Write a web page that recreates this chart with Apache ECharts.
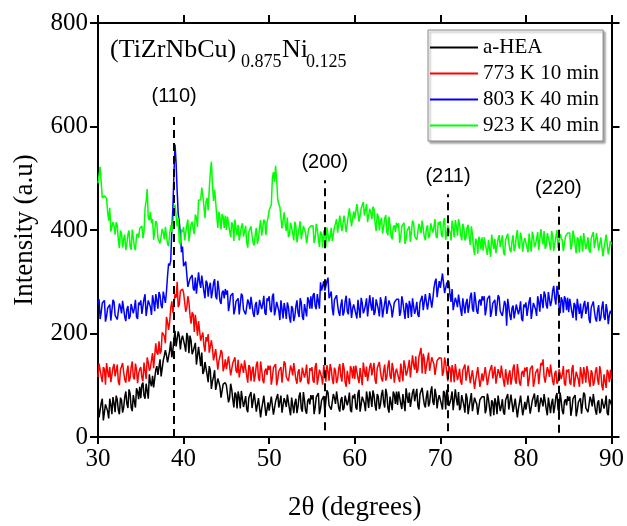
<!DOCTYPE html>
<html>
<head>
<meta charset="utf-8">
<script src="https://cdn.jsdelivr.net/npm/echarts@6.0.0/dist/echarts.min.js"></script>
<style>
  html, body { margin: 0; padding: 0; background: #fff; }
  #chart { width: 627px; height: 526px; }
</style>
</head>
<body>
<div id="chart"></div>
<script>
// readings taken every 0.25 deg from 30 deg ("A" lists, 241 values)
// and at the points half-way between them, 30.125 deg on ("B" lists, 240 values)
const thetaStart = 30, thetaStep = 0.25;

const seriesNames = ['a-HEA', '773 K 10 min', '803 K 40 min', '923 K 40 min'];
const seriesColors = ['#000000', '#ff0000', '#0000ff', '#00ff00'];

// values, 20 per row = 5 degrees per row
const aHEA_A = [
  64,35,74,48,64,36,62,77,48,72,44,71,57,88,56,84,50,81,94,73,
  75,105,74,104,121,98,96,130,120,150,118,157,158,146,185,168,205,173,195,188,
  197,165,194,196,160,169,140,174,137,122,145,120,137,93,116,91,113,97,76,100,
  100,67,103,73,86,55,77,89,58,79,48,73,56,84,49,75,38,67,77,53,
  51,78,43,69,83,55,47,75,58,82,42,73,66,46,79,55,87,51,70,63,
  73,44,77,85,55,71,49,90,61,53,83,64,87,49,77,56,82,70,52,80,
  83,53,91,63,79,50,74,88,58,81,51,78,62,91,57,83,47,76,88,64,
  62,89,54,80,94,66,58,86,69,93,53,84,77,57,90,66,98,62,81,73,
  83,53,85,91,60,75,52,92,61,52,81,61,84,44,72,50,76,64,46,73,
  76,46,84,56,71,42,66,80,50,73,43,69,53,82,48,74,38,67,78,54,
  53,80,45,71,84,56,48,76,59,82,42,73,66,46,78,54,86,50,69,61,
  70,41,74,81,51,67,45,86,56,48,78,59,82,43,71,50,76,64,46,73,
  62
];
const aHEA_B = [
  38,66,32,63,50,74,44,65,80,52,76,47,77,64,92,57,81,57,88,97,
  101,80,103,74,105,118,93,137,121,117,148,168,144,167,154,189,175,204,169,196,
  177,201,162,186,166,182,143,156,163,127,142,106,128,108,129,88,106,76,102,105,
  102,75,92,57,82,88,55,91,67,54,76,87,54,68,47,75,55,80,41,67,
  49,76,41,70,57,80,48,68,82,54,76,46,74,59,86,49,71,45,74,81,
  81,57,76,44,71,79,48,86,64,53,76,88,56,72,52,80,61,86,48,75,
  57,84,49,78,65,88,56,76,90,61,83,54,82,67,93,56,78,52,82,88,
  88,64,83,50,78,86,55,93,70,60,83,95,63,78,59,87,68,93,55,81,
  63,89,53,81,66,88,55,74,87,57,78,47,75,59,85,47,69,43,72,78,
  78,54,73,40,67,75,44,82,59,48,71,83,51,66,46,74,55,80,42,68,
  51,78,43,72,58,81,49,69,83,54,76,46,74,59,85,48,70,44,73,79,
  78,54,73,40,67,75,44,82,59,48,71,83,51,66,46,74,55,80,42,68
];
const k773_A = [
  116,142,106,131,143,115,106,134,117,140,100,132,125,105,138,114,146,111,130,123,
  135,108,144,154,128,149,133,181,159,161,202,195,232,207,249,240,276,300,256,281,
  279,242,272,235,241,203,218,224,186,202,165,185,163,187,148,170,130,155,163,136,
  131,156,119,143,154,124,115,142,124,146,105,135,128,107,139,114,146,110,128,120,
  130,101,134,141,111,127,105,146,116,108,138,119,142,103,131,110,136,124,106,133,
  135,105,143,115,130,101,125,139,109,132,102,128,112,141,107,133,97,126,137,113,
  112,139,104,130,144,116,108,136,119,143,103,134,127,107,140,116,148,112,131,124,
  134,106,140,148,119,136,115,158,130,124,155,172,161,122,150,128,154,141,122,148,
  150,118,154,124,137,106,128,141,110,132,101,126,109,138,104,129,93,122,133,109,
  108,135,100,126,139,111,103,131,114,137,97,128,121,101,133,109,141,105,124,116,
  127,98,131,138,108,124,102,143,150,105,135,116,139,100,128,107,133,121,103,130,
  131,101,139,111,125,97,121,135,105,127,97,123,107,135,101,126,90,119,130,106,
  112
];
const k773_B = [
  142,117,135,101,127,135,103,141,118,107,130,143,111,126,107,135,116,142,104,131,
  115,144,112,144,134,162,136,163,185,166,199,181,223,222,262,237,269,251,282,286,
  281,250,261,219,237,236,196,226,195,177,193,199,161,171,146,170,147,168,127,150,
  129,154,117,144,128,149,116,135,148,118,139,108,136,120,146,108,130,104,132,138,
  138,114,133,100,127,135,104,142,119,108,131,143,111,126,106,134,115,140,102,128,
  109,136,101,130,116,139,107,127,141,112,134,104,132,117,143,106,128,102,131,137,
  138,114,133,100,128,136,105,143,120,110,133,145,113,128,109,137,118,143,105,132,
  114,142,108,138,125,149,118,140,156,129,152,123,152,137,163,125,147,120,148,153,
  152,126,143,108,133,139,106,143,119,107,129,140,107,122,102,129,110,135,97,123,
  106,133,98,127,113,136,104,124,138,109,131,101,129,114,140,103,125,99,128,134,
  135,111,130,97,124,132,101,139,116,105,128,140,108,123,103,131,112,137,99,125,
  105,132,97,126,111,135,103,123,137,107,129,99,127,111,137,99,121,95,124,130
];
const k803_A = [
  258,228,259,264,233,248,225,265,235,227,258,239,263,224,253,233,260,249,232,260,
  264,236,276,249,265,236,261,276,248,274,249,283,281,335,341,442,565,475,416,357,
  330,339,290,306,313,283,277,318,288,309,268,298,290,268,298,272,302,263,279,268,
  275,243,273,278,246,260,237,277,246,237,266,247,270,232,261,241,268,257,240,268,
  272,241,277,246,258,226,247,259,228,251,221,248,233,264,232,260,226,257,270,248,
  248,278,247,278,299,281,283,301,268,281,235,263,255,234,266,241,273,237,256,248,
  258,229,262,269,239,255,233,274,244,236,266,247,270,231,259,238,264,252,234,261,
  264,234,272,244,259,230,254,268,238,261,232,259,245,276,246,278,250,287,306,287,
  288,316,278,298,301,261,245,269,251,274,234,266,259,240,272,248,280,244,262,254,
  264,235,267,273,242,257,234,274,243,234,263,215,266,226,254,232,258,246,228,256,
  260,231,270,244,261,234,260,276,249,275,248,277,263,292,256,279,239,264,272,245,
  241,266,230,255,267,238,229,256,238,261,220,251,243,223,255,230,262,226,244,236,
  238
];
const k803_B = [
  266,241,258,223,249,256,224,261,238,227,251,263,232,247,228,257,239,265,228,255,
  238,267,234,264,251,274,243,264,280,254,281,259,311,331,400,510,530,430,392,368,
  328,337,288,307,287,308,278,299,312,281,302,271,298,281,305,266,286,257,283,286,
  283,256,272,237,262,268,236,273,249,237,259,271,239,255,236,265,247,273,236,263,
  246,272,235,261,244,264,229,247,260,231,253,224,253,240,268,233,257,233,264,272,
  274,253,276,248,283,301,280,308,269,248,265,274,241,255,235,262,243,268,230,256,
  238,265,230,259,245,268,236,256,270,241,263,233,261,246,272,235,257,231,260,266,
  266,242,261,228,255,263,232,270,247,236,260,273,243,260,244,278,267,300,270,301,
  286,314,276,299,275,286,246,262,275,246,268,239,267,253,279,242,264,238,266,272,
  272,248,266,232,258,265,233,270,246,234,256,267,235,249,229,256,237,262,224,251,
  234,262,228,259,247,272,242,264,281,255,280,253,283,268,292,252,270,240,266,269,
  267,241,259,225,251,258,226,263,239,228,250,262,229,244,224,251,232,257,218,244
];
const k923_A = [
  490,522,462,466,461,418,397,415,391,409,365,393,383,361,392,368,401,367,389,385,
  400,384,442,479,419,413,381,417,384,374,402,382,404,369,409,413,449,407,376,401,
  406,379,420,396,416,392,424,458,458,466,423,462,479,532,456,454,404,425,431,404,
  400,424,386,409,420,390,380,406,387,408,366,396,389,370,404,383,419,389,416,416,
  438,449,512,524,459,445,403,434,398,386,414,394,416,376,404,382,408,395,377,403,
  406,375,412,383,397,366,389,405,378,404,377,407,395,428,398,428,396,429,443,422,
  422,450,416,442,454,425,415,441,421,441,398,426,416,393,422,396,426,388,405,396,
  405,375,407,414,383,399,377,418,388,381,412,394,418,380,409,389,416,405,388,415,
  417,386,423,394,409,380,404,419,389,411,380,404,385,410,371,392,352,378,387,362,
  360,387,352,378,391,363,355,383,367,390,351,382,376,357,390,367,400,364,384,376,
  386,357,390,397,367,383,361,402,372,364,394,375,398,359,387,366,392,380,362,389,
  392,362,399,371,386,356,380,394,363,386,356,382,365,394,360,386,349,378,389,365,
  372
];
const k923_B = [
  488,520,460,467,435,443,398,408,415,381,399,366,391,374,399,362,385,361,393,403,
  408,397,456,423,435,421,380,413,387,374,395,406,373,392,396,437,428,423,372,396,
  380,410,378,411,402,430,406,461,482,446,455,438,511,487,478,427,435,401,425,428,
  426,399,415,379,404,410,377,413,388,375,396,407,375,391,373,404,389,420,390,424,
  438,500,493,497,450,448,401,412,424,391,411,380,407,391,417,379,401,374,403,408,
  408,383,401,367,393,399,367,407,387,379,405,421,393,412,396,428,413,442,407,436,
  420,448,414,443,428,450,416,434,445,413,432,399,424,406,429,390,410,382,409,414,
  413,388,406,373,399,407,376,414,391,381,405,418,387,403,384,413,395,421,384,410,
  391,417,381,409,395,418,386,407,421,391,412,380,405,386,407,365,383,354,381,386,
  386,362,381,348,375,383,352,390,368,357,381,393,362,378,359,388,370,395,358,384,
  366,393,358,387,373,396,364,384,398,369,391,361,389,374,400,363,385,359,388,394,
  394,370,388,355,382,389,358,396,372,361,384,396,363,378,358,386,366,391,353,379
];

// reflection markers
const hklNames = ['(110)', '(200)', '(211)', '(220)'];
const hklPos = [38.9, 56.5, 70.9, 83.8];
const hklTop = [623, 496, 469, 446];
const hklBottom = [0, 13, 11, 8];

const xTicks = [30, 90, 10];   // min, max, interval
const yTicks = [0, 800, 200];

// merge the two reading lists into one ordered [2theta, intensity] list
function pairs(a, b) {
  const out = [];
  a.forEach((v, i) => {
    out.push([thetaStart + i * thetaStep, v]);
    if (i < b.length) out.push([thetaStart + i * thetaStep + thetaStep / 2, b[i]]);
  });
  return out;
}

const serif = 'Liberation Serif';
const chart = echarts.init(document.getElementById('chart'));

const allVals = [[aHEA_A, aHEA_B], [k773_A, k773_B], [k803_A, k803_B], [k923_A, k923_B]];
const lines = allVals.map((ab, i) => ({
  name: seriesNames[i],
  type: 'line',
  data: pairs(ab[0], ab[1]),
  symbol: 'none',
  showSymbol: false,
  color: seriesColors[i],
  lineStyle: { width: 1.5, color: seriesColors[i] },
  animation: false
}));

lines.push({
  name: 'hkl',
  type: 'line',
  data: [],
  markLine: {
    silent: true,
    symbol: ['none', 'none'],
    animation: false,
    lineStyle: { type: [8, 5], color: '#000', width: 2 },
    label: {
      show: true,
      position: 'end',
      distance: 8,
      color: '#000',
      fontFamily: 'Liberation Sans',
      fontSize: 20,
      formatter: p => p.name
    },
    data: hklNames.map((n, i) => [
      { name: n, coord: [hklPos[i], hklBottom[i]] },
      { coord: [hklPos[i], hklTop[i]] }
    ])
  }
});

const axisLineStyle = { color: '#000', width: 2 };

let option = {
  backgroundColor: '#fff',
  animation: false,
  grid: { left: 98, right: 12, top: 23, bottom: 87 },
  legend: {
    data: seriesNames,
    orient: 'vertical',
    left: 428,
    top: 30,
    padding: [7, 4, 5, 2],
    itemGap: 5,
    itemWidth: 48,
    itemHeight: 2,
    icon: 'rect',
    backgroundColor: '#fff',
    borderColor: '#888',
    borderWidth: 1,
    shadowColor: 'rgba(0,0,0,0.35)',
    shadowBlur: 2,
    shadowOffsetX: 2,
    shadowOffsetY: 2,
    textStyle: { fontFamily: serif, fontSize: 21, color: '#000' }
  },
  graphic: [
    { type: 'text', x: 110, y: 50, style: { text: '(TiZrNbCu)', fontFamily: serif, fontSize: 26, fill: '#000', verticalAlign: 'middle' } },
    { type: 'text', x: 241, y: 62, style: { text: '0.875', fontFamily: serif, fontSize: 18, fill: '#000', verticalAlign: 'middle' } },
    { type: 'text', x: 282, y: 50, style: { text: 'Ni', fontFamily: serif, fontSize: 26, fill: '#000', verticalAlign: 'middle' } },
    { type: 'text', x: 306, y: 62, style: { text: '0.125', fontFamily: serif, fontSize: 18, fill: '#000', verticalAlign: 'middle' } }
  ],
  xAxis: [
    {
      type: 'value',
      min: xTicks[0], max: xTicks[1], interval: xTicks[2],
      name: '2θ (degrees)',
      nameLocation: 'middle',
      nameGap: 57,
      nameTextStyle: { fontFamily: serif, fontSize: 27, color: '#000' },
      axisLine: { onZero: false, lineStyle: axisLineStyle },
      axisTick: { inside: false, length: 7, lineStyle: axisLineStyle },
      axisLabel: { fontFamily: serif, fontSize: 25, color: '#000', margin: 10 },
      splitLine: { show: false }
    },
    {
      type: 'value',
      position: 'top',
      min: xTicks[0], max: xTicks[1], interval: xTicks[2],
      axisLine: { onZero: false, lineStyle: axisLineStyle },
      axisTick: { inside: false, length: 8, lineStyle: axisLineStyle },
      axisLabel: { show: false },
      splitLine: { show: false }
    }
  ],
  yAxis: [
    {
      type: 'value',
      min: yTicks[0], max: yTicks[1], interval: yTicks[2],
      name: 'Intensity (a.u)',
      nameLocation: 'middle',
      nameGap: 60,
      nameTextStyle: { fontFamily: serif, fontSize: 27, color: '#000' },
      axisLine: { show: true, onZero: false, lineStyle: axisLineStyle },
      axisTick: { show: true, inside: false, length: 8, lineStyle: axisLineStyle },
      axisLabel: { fontFamily: serif, fontSize: 25, color: '#000', margin: 10 },
      splitLine: { show: false }
    },
    {
      type: 'value',
      position: 'right',
      min: yTicks[0], max: yTicks[1], interval: yTicks[2],
      axisLine: { show: true, onZero: false, lineStyle: axisLineStyle },
      axisTick: { show: true, inside: false, length: 8, lineStyle: axisLineStyle },
      axisLabel: { show: false },
      splitLine: { show: false }
    }
  ],
  series: lines
};

chart.setOption(option);
</script>
</body>
</html>
